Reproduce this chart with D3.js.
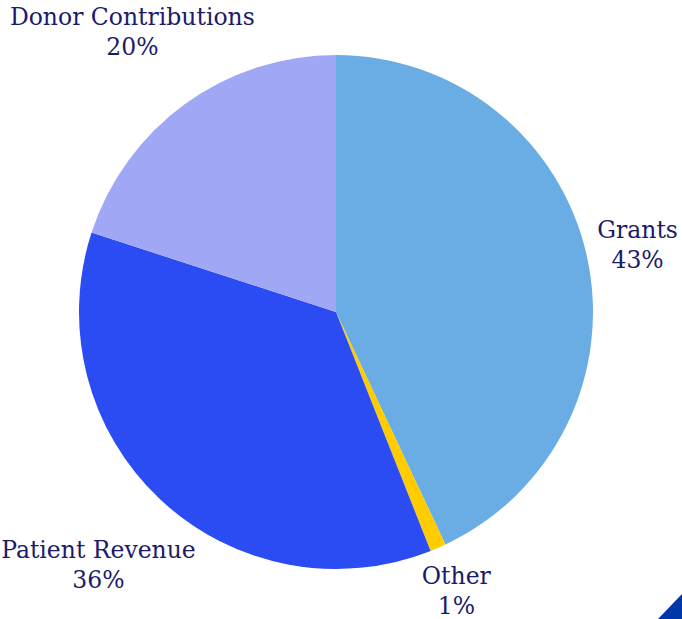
<!DOCTYPE html>
<html>
<head>
<meta charset="utf-8">
<script src="https://cdn.jsdelivr.net/npm/d3@7"></script>
<style>
  html, body { margin: 0; padding: 0; background: #fff; }
  #chart { width: 682px; height: 619px; }
  .label { font-family: "DejaVu Serif", serif; font-size: 23.5px; fill: #1b1b6b; }
</style>
</head>
<body>
<div id="chart"></div>
<script>
const WIDTH = 682, HEIGHT = 619;
const CX = 336, CY = 312, R = 257;
const LABEL_PAD = 7;
const LINE_H = 30;

// data
const categories = ["Grants", "Other", "Patient Revenue", "Donor Contributions"];
const shares = [43, 1, 36, 20];
const colors = ["#6aace4", "#ffcc00", "#2b4cf3", "#a0a8f5"];

const data = categories.map((name, i) => ({ name, value: shares[i], color: colors[i] }));

const svg = d3.select("#chart").append("svg")
  .attr("width", WIDTH)
  .attr("height", HEIGHT);

const g = svg.append("g").attr("transform", `translate(${CX},${CY})`);

const pie = d3.pie().value(d => d.value).sort(null);
const arc = d3.arc().innerRadius(0).outerRadius(R);
const arcs = pie(data);

g.selectAll("path.slice")
  .data(arcs)
  .enter().append("path")
    .attr("class", "slice")
    .attr("d", arc)
    .attr("fill", d => d.data.color);

// labels: two lines, pushed outward along the mid-angle until the box clears the pie
const labels = g.selectAll("g.lbl")
  .data(arcs)
  .enter().append("g")
    .attr("class", "lbl");

labels.each(function(d) {
  const sel = d3.select(this);
  const t = sel.append("text").attr("class", "label").attr("text-anchor", "middle");
  t.append("tspan").attr("x", 0).attr("y", 0).text(d.data.name);
  t.append("tspan").attr("x", 0).attr("y", LINE_H).text(`${d.data.value}%`);

  const bb = t.node().getBBox();
  const mid = (d.startAngle + d.endAngle) / 2;
  const dx = Math.sin(mid), dy = -Math.cos(mid);
  // box relative to text origin
  const cxOff = bb.x + bb.width / 2, cyOff = bb.y + bb.height / 2;
  const hw = bb.width / 2, hh = bb.height / 2;

  let tt = R * 0.5;
  for (; tt < R * 3; tt += 0.5) {
    const bx = dx * tt, by = dy * tt;
    const nx = Math.max(bx - hw, Math.min(0, bx + hw));
    const ny = Math.max(by - hh, Math.min(0, by + hh));
    if (Math.hypot(nx, ny) >= R + LABEL_PAD) break;
  }
  const bx = dx * tt, by = dy * tt;
  sel.attr("transform", `translate(${bx - cxOff},${by - cyOff})`);
});

// corner decoration
svg.append("path")
  .attr("d", `M${WIDTH - 24},${HEIGHT} L${WIDTH},${HEIGHT - 25} L${WIDTH},${HEIGHT} Z`)
  .attr("fill", "#0037a8");
</script>
</body>
</html>
